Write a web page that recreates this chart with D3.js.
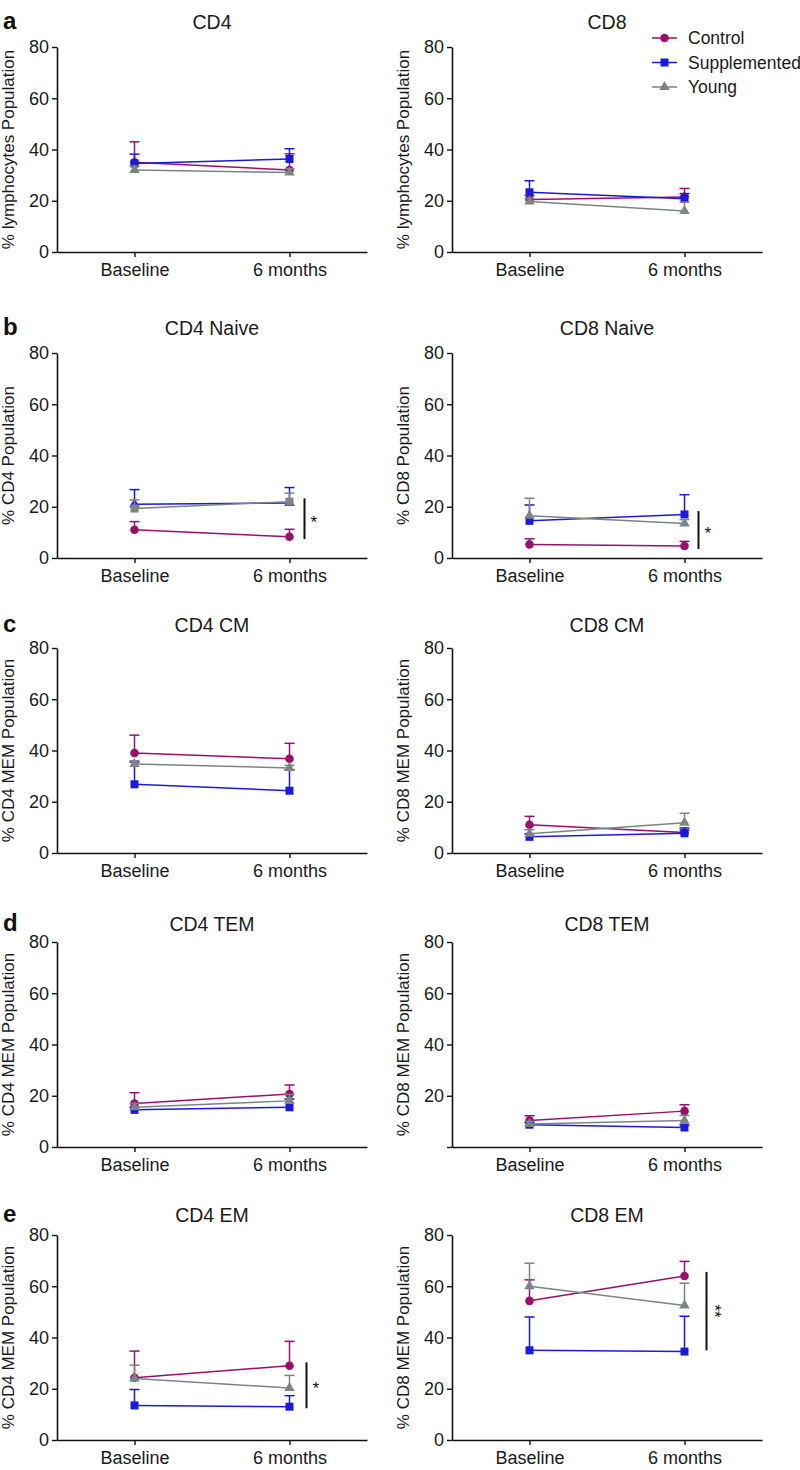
<!DOCTYPE html>
<html>
<head>
<meta charset="utf-8">
<script src="https://cdn.jsdelivr.net/npm/d3@7"></script>
<style>
  body { margin: 0; background: #fff; }
  svg { font-family: "Liberation Sans", Arial, sans-serif; }
</style>
</head>
<body>
<svg id="chart" width="800" height="1470"></svg>
<script>
const timepoints = ["Baseline", "6 months"];
const groups = ["Control", "Supplemented", "Young"];
const rowLetters = ["a", "b", "c", "d", "e"];
const panelTitles = ["CD4", "CD8", "CD4 Naive", "CD8 Naive", "CD4 CM", "CD8 CM", "CD4 TEM", "CD8 TEM", "CD4 EM", "CD8 EM"];
const yLabels = [
  "% lymphocytes Population", "% lymphocytes Population",
  "% CD4 Population", "% CD8 Population",
  "% CD4 MEM Population", "% CD8 MEM Population",
  "% CD4 MEM Population", "% CD8 MEM Population",
  "% CD4 MEM Population", "% CD8 MEM Population"
];
const yTicks = [0, 20, 40, 60, 80];

// mean and SEM per panel, [Baseline, 6 months]
const controlMean = [[35, 32], [20.5, 21.5], [11, 8.3], [5.3, 4.7], [39, 36.8], [11, 8], [17, 20.7], [10.3, 14], [24.3, 29], [54.3, 64]];
const controlSem = [[8, 6.3], [1.5, 3.3], [3.2, 2.9], [2.2, 1.8], [7, 6], [3.3, 1], [4.2, 3.5], [1.9, 2.5], [10.4, 9.5], [8.2, 5.7]];
const supplementedMean = [[34.5, 36.3], [23.3, 20.8], [21, 21.5], [14.5, 17], [26.8, 24.3], [6.3, 7.7], [14.5, 15.5], [8.7, 7.6], [13.5, 13], [35, 34.5]];
const supplementedSem = [[3.7, 4], [4.5, 2], [5.7, 6], [6.2, 7.7], [8.7, 8.2], [1.2, 2.1], [1, 3.2], [0.8, 0.9], [6.2, 4.3], [13, 13.8]];
const youngMean = [[32, 31], [19.7, 16], [19.3, 22], [16.5, 13.5], [34.7, 33.2], [7.5, 11.8], [15.5, 18], [9, 10.3], [24, 20.3], [60, 52.5]];
const youngSem = [[1.5, 1.5], [1.2, 3.5], [3.4, 3.3], [6.8, 1.5], [1.3, 1], [1.6, 3.7], [1.5, 2.5], [1, 2], [5.2, 4.9], [9, 8.7]];

// significance brackets at 6 months
const sigPanels = [2, 3, 8, 9];
const sigLow = [7.4, 3.5, 12.4, 35];
const sigHigh = [23.3, 18.3, 30.3, 65.6];
const sigLabels = ["*", "*", "*", "**"];

const colors = { Control: "#98106a", Supplemented: "#1a1ad8", Young: "#7d8484" };
const shapes = { Control: d3.symbolCircle, Supplemented: d3.symbolSquare, Young: d3.symbolTriangle };
const means = { Control: controlMean, Supplemented: supplementedMean, Young: youngMean };
const sems = { Control: controlSem, Supplemented: supplementedSem, Young: youngSem };
const symbolSize = s => (s === d3.symbolCircle ? 58 : s === d3.symbolSquare ? 64 : 48);

// layout
const colX = [57, 452];
const plotW = 310;
const plotH = 205;
const rowY = [47, 353, 648, 942, 1235];
const titleY = [29, 335, 632, 931, 1222];
const sigDx = [15, 14, 17, 22];
const noZeroLabel = [7];
const swappedMarkers = [2]; // original figure shows square/triangle swapped here

const svg = d3.select("#chart");

panelTitles.forEach((title, i) => {
  const row = Math.floor(i / 2);
  const col = i % 2;
  const x0 = colX[col];
  const y0 = rowY[row];

  const x = d3.scalePoint().domain(timepoints).range([x0, x0 + plotW]).padding(0.5);
  const y = d3.scaleLinear().domain([0, 80]).range([y0 + plotH, y0]);

  const g = svg.append("g");

  // y axis
  const ya = g.append("g")
    .attr("transform", `translate(${x0},0)`)
    .call(d3.axisLeft(y).tickValues(yTicks).tickSize(5).tickSizeOuter(0).tickPadding(3));
  ya.selectAll("text").style("font-size", "18px").attr("fill", "#1a1a1a")
    .text(d => (d === 0 && noZeroLabel.includes(i)) ? "" : d);

  // x axis
  const xa = g.append("g")
    .attr("transform", `translate(0,${y(0)})`)
    .call(d3.axisBottom(x).tickSize(5).tickSizeOuter(0).tickPadding(6));
  xa.selectAll("text").style("font-size", "18px").attr("fill", "#1a1a1a");

  [ya, xa].forEach(a => {
    a.select(".domain").attr("stroke", "#111").attr("stroke-width", 1.6);
    a.selectAll(".tick line").attr("stroke", "#111").attr("stroke-width", 1.4);
  });

  // titles
  g.append("text")
    .attr("x", x0 + plotW / 2)
    .attr("y", titleY[row])
    .attr("text-anchor", "middle")
    .style("font-size", "19.5px")
    .attr("fill", "#1a1a1a")
    .text(title);

  g.append("text")
    .attr("transform", `translate(${x0 - 43},${y0 + plotH / 2}) rotate(-90)`)
    .attr("text-anchor", "middle")
    .style("font-size", "17px")
    .attr("fill", "#1a1a1a")
    .text(yLabels[i]);

  if (col === 0) {
    g.append("text")
      .attr("x", 3)
      .attr("y", titleY[row])
      .style("font-size", "24px")
      .style("font-weight", "bold")
      .attr("fill", "#111")
      .text(rowLetters[row]);
  }

  // series: error bars, line, markers
  groups.forEach(name => {
    const color = colors[name];
    const pts = timepoints.map((t, j) => ({ t, m: means[name][i][j], s: sems[name][i][j] }));
    let shape = shapes[name];
    if (swappedMarkers.includes(i)) {
      if (name === "Supplemented") shape = shapes.Young;
      if (name === "Young") shape = shapes.Supplemented;
    }

    const eb = g.append("g");
    eb.selectAll("line.v").data(pts).join("line")
      .attr("x1", d => x(d.t)).attr("x2", d => x(d.t))
      .attr("y1", d => y(d.m)).attr("y2", d => y(d.m + d.s))
      .attr("stroke", color).attr("stroke-width", 1.5);
    eb.selectAll("line.cap").data(pts).join("line")
      .attr("x1", d => x(d.t) - 5).attr("x2", d => x(d.t) + 5)
      .attr("y1", d => y(d.m + d.s)).attr("y2", d => y(d.m + d.s))
      .attr("stroke", color).attr("stroke-width", 1.5);

    g.append("path")
      .datum(pts)
      .attr("fill", "none")
      .attr("stroke", color)
      .attr("stroke-width", 1.5)
      .attr("d", d3.line().x(d => x(d.t)).y(d => y(d.m)));

    g.selectAll(null).data(pts).join("path")
      .attr("transform", d => `translate(${x(d.t)},${y(d.m)})`)
      .attr("d", d3.symbol().type(shape).size(symbolSize(shape)))
      .attr("fill", color);
  });

  // significance bracket
  const k = sigPanels.indexOf(i);
  if (k >= 0) {
    const bx = x(timepoints[1]) + sigDx[k];
    g.append("line")
      .attr("x1", bx).attr("x2", bx)
      .attr("y1", y(sigHigh[k])).attr("y2", y(sigLow[k]))
      .attr("stroke", "#111").attr("stroke-width", 2);
    const my = (y(sigHigh[k]) + y(sigLow[k])) / 2;
    if (sigLabels[k].length > 1) {
      g.append("text")
        .attr("transform", `translate(${bx + 2},${my}) rotate(90)`)
        .attr("text-anchor", "middle")
        .style("font-size", "17px")
        .attr("fill", "#111")
        .text(sigLabels[k]);
    } else {
      g.append("text")
        .attr("x", bx + 6)
        .attr("y", my + 9)
        .style("font-size", "17px")
        .attr("fill", "#111")
        .text(sigLabels[k]);
    }
  }
});

// legend (top right panel)
const legend = svg.append("g").attr("transform", "translate(652,38)");
groups.forEach((name, j) => {
  const ly = j * 24.5;
  legend.append("line")
    .attr("x1", 0).attr("x2", 25)
    .attr("y1", ly).attr("y2", ly)
    .attr("stroke", colors[name]).attr("stroke-width", 1.5);
  legend.append("path")
    .attr("transform", `translate(12.5,${ly})`)
    .attr("d", d3.symbol().type(shapes[name]).size(symbolSize(shapes[name])))
    .attr("fill", colors[name]);
  legend.append("text")
    .attr("x", 36)
    .attr("y", ly)
    .attr("dy", "0.36em")
    .style("font-size", "17.5px")
    .attr("fill", "#1a1a1a")
    .text(name);
});
</script>
</body>
</html>
